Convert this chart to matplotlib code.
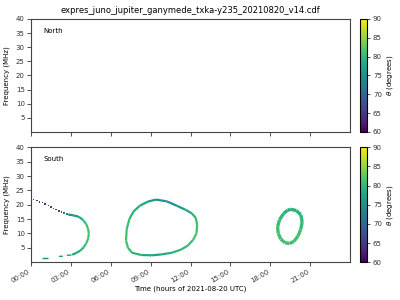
import numpy as np
import matplotlib
matplotlib.use('Agg')
import matplotlib.pyplot as plt
from matplotlib.collections import LineCollection
from matplotlib.colors import Normalize

title = 'expres_juno_jupiter_ganymede_txka-y235_20210820_v14.cdf'
hour_ticks = [0, 3, 6, 9, 12, 15, 18, 21]
hour_labels = ['00:00', '03:00', '06:00', '09:00', '12:00', '15:00', '18:00', '21:00']
freq_ticks = [5, 10, 15, 20, 25, 30, 35, 40]

# South, first arc: sparse dotted upper branch (low theta)
a_dot_t = [0.0, 0.2, 0.45, 0.65, 0.85, 1.05, 1.3, 1.5, 1.7, 1.9, 2.1, 2.3, 2.5, 2.7]
a_dot_f = [22.3, 21.9, 21.4, 21.0, 20.7, 20.3, 19.7, 19.2, 18.7, 18.3, 17.9, 17.5, 17.1, 16.8]
a_dot_th = [64, 64, 64, 64, 64, 64, 64, 65, 65, 66, 67, 69, 71, 73]

# South, first arc: continuous part
a_t = [2.8, 3.2, 3.6, 3.9, 4.15, 4.3, 4.35, 4.3, 4.15, 3.95, 3.7, 3.4, 3.1]
a_f = [16.6, 16.3, 15.8, 14.8, 13.3, 11.6, 10.0, 8.2, 6.5, 5.1, 4.0, 3.2, 2.6]
a_th = [74, 75, 77, 80, 81, 81, 81, 81, 81, 80, 79, 78, 77]

# South, first arc: broken lower tail
a_tail = [([2.7, 3.05], [2.4, 2.5]), ([2.1, 2.4], [2.0, 2.1]), ([0.85, 1.3], [1.6, 1.6])]
a_tail_th = [76, 76, 74]

# South, second loop (closed)
b_t = [9.4, 10.2, 11.0, 11.6, 12.1, 12.4, 12.5, 12.45, 12.2, 11.8, 11.3, 10.6, 9.8, 9.1,
       8.3, 7.6, 7.3, 7.15, 7.2, 7.4, 7.7, 8.2, 8.8, 9.4]
b_f = [21.8, 21.2, 19.6, 18.3, 17.0, 15.4, 13.0, 10.0, 7.8, 5.8, 4.4, 3.3, 2.7, 2.4,
       2.5, 3.3, 5.0, 7.5, 11.5, 15.0, 17.6, 19.7, 21.1, 21.8]
b_th = [75, 75, 76, 77, 79, 80, 81, 81, 81, 80, 80, 79, 78, 77,
        79, 80, 81, 81, 81, 80, 79, 78, 77, 75]

# South, third ring (closed)
c_t = [19.55, 19.95, 20.3, 20.4, 20.3, 20.1, 19.8, 19.45, 19.1, 18.8, 18.6, 18.55,
       18.7, 19.0, 19.3, 19.55]
c_f = [18.4, 18.0, 16.5, 14.0, 11.5, 9.2, 7.3, 6.5, 6.8, 8.0, 10.0, 12.3,
       14.8, 16.9, 18.1, 18.4]
c_th = [79, 79, 80, 80, 81, 81, 81, 81, 81, 81, 81, 81, 80, 80, 79, 79]

cmap = plt.get_cmap('viridis')
norm = Normalize(vmin=60, vmax=90)


def draw_line(ax, t, f, th, lw=2.0):
    pts = np.column_stack([t, f])
    segs = np.stack([pts[:-1], pts[1:]], axis=1)
    vals = (np.array(th[:-1]) + np.array(th[1:])) / 2.0
    lc = LineCollection(segs, cmap=cmap, norm=norm, linewidths=lw, capstyle='butt')
    lc.set_array(vals)
    ax.add_collection(lc)


def setup(ax, label, show_x):
    ax.set_xlim(0, 24)
    ax.set_ylim(0, 40)
    ax.set_xticks(hour_ticks)
    ax.set_yticks(freq_ticks)
    ax.tick_params(labelsize=5, length=3, width=0.6, pad=1.5, colors='#333333')
    for s in ax.spines.values():
        s.set_linewidth(0.8)
        s.set_color('#444444')
    ax.set_ylabel('Frequency (MHz)', fontsize=5, labelpad=4)
    ax.text(0.04, 0.92, label, transform=ax.transAxes, fontsize=5, va='top')
    if show_x:
        ax.set_xticklabels(hour_labels, rotation=30, ha='right')
        ax.set_xlabel('Time (hours of 2021-08-20 UTC)', fontsize=5, labelpad=1)
    else:
        ax.set_xticklabels([])


fig = plt.figure(figsize=(4, 3), dpi=100)
ax1 = fig.add_axes([0.0775, 0.56, 0.7975, 0.377])
ax2 = fig.add_axes([0.0775, 0.126, 0.7975, 0.383])
cax1 = fig.add_axes([0.901, 0.56, 0.0175, 0.377])
cax2 = fig.add_axes([0.901, 0.126, 0.0175, 0.383])

setup(ax1, 'North', False)
setup(ax2, 'South', True)
ax1.set_title(title, fontsize=6, pad=4)

# South features
ax2.scatter(a_dot_t, a_dot_f, c=a_dot_th, cmap=cmap, norm=norm, s=1.2, marker='s', linewidths=0)
draw_line(ax2, a_t, a_f, a_th, lw=1.6)
for (tt, ff), th in zip(a_tail, a_tail_th):
    draw_line(ax2, tt, ff, [th, th], lw=1.0)
draw_line(ax2, b_t, b_f, b_th, lw=1.6)
draw_line(ax2, c_t, c_f, c_th, lw=2.4)

sm = plt.cm.ScalarMappable(norm=norm, cmap=cmap)
for cax in (cax1, cax2):
    cb = fig.colorbar(sm, cax=cax)
    cb.set_ticks([60, 65, 70, 75, 80, 85, 90])
    cb.ax.tick_params(labelsize=5, length=2.5, width=0.6, pad=1.5, colors='#333333')
    cb.outline.set_linewidth(0.8)
    cb.set_label(r'$\theta$ (degrees)', fontsize=5, labelpad=2)

fig.savefig('out.png', dpi=100)
